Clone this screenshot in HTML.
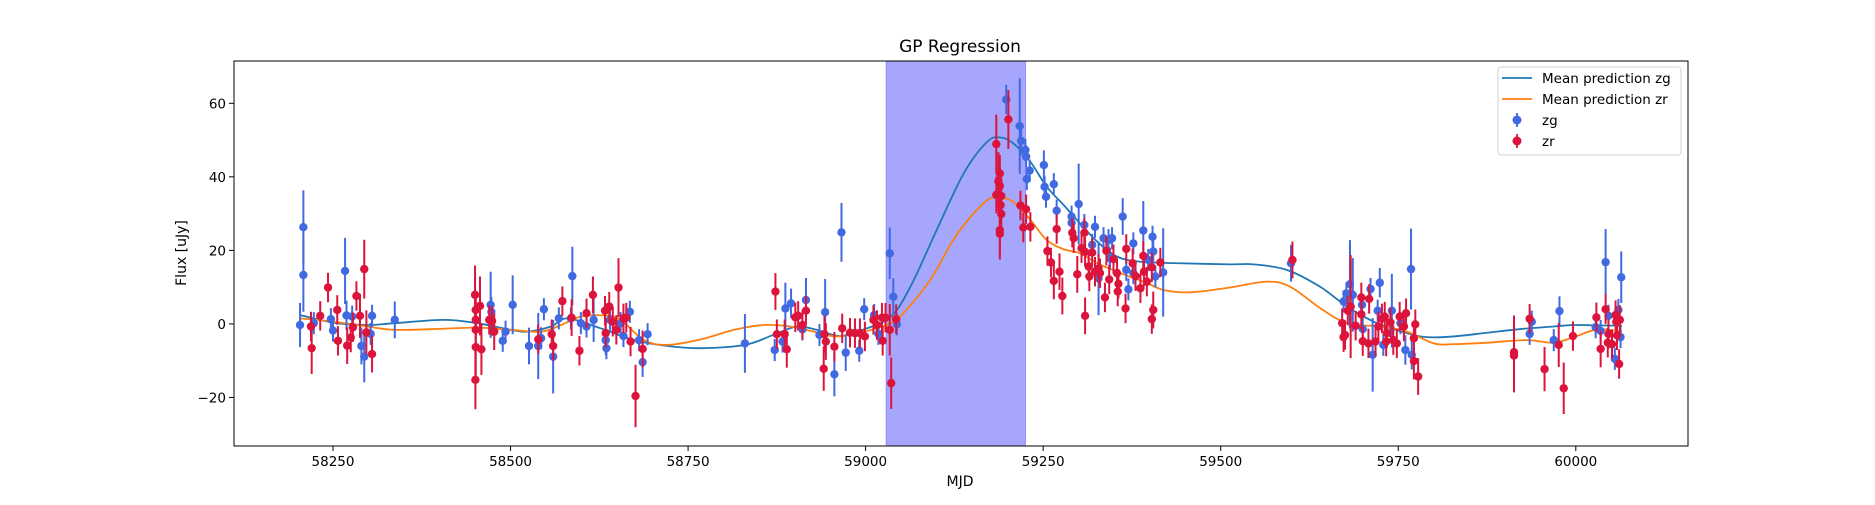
<!DOCTYPE html>
<html><head><meta charset="utf-8"><style>
html,body{margin:0;padding:0;background:#fff;}
svg text{font-family:"DejaVu Sans","Liberation Sans",sans-serif;fill:#000;}
</style></head><body>
<svg id="chart" width="1875" height="500" viewBox="0 0 1875 500" xmlns="http://www.w3.org/2000/svg">
<rect width="1875" height="500" fill="#fff"/>
<text x="960" y="52" font-size="17" text-anchor="middle">GP Regression</text>
<text x="960" y="486" font-size="14" text-anchor="middle">MJD</text>
<text transform="translate(186,253) rotate(-90)" font-size="14" text-anchor="middle">Flux [uJy]</text>
<g id="plot"></g>
</svg>
<script>
const xTicks=[58250,58500,58750,59000,59250,59500,59750,60000];
const yTicks=[-20,0,20,40,60];
const band=[59029,59225];
const gX=[58203.6,58208.3,58208.3,58223,58247,58250,58267,58269,58277,58290,58294,58303,58305,58337,58472,58473,58489,58493,58503,58526,58539,58543,58547,58560,58568,58585,58587,58599,58607,58617,58634,58635,58640,58655,58659,58668,58681,58686,58693,
58830,58872,58883,58887,58895,58911,58916,58935,58943,58956,58966,58972,58991,58998,59012,59018,59034,59039,59044,59198,59217,59219,59225,59226,59227,59231,59251,59252,59254,59265,59269,59290,59290,59300,59308,59319,59323,59328,59335,59342,59347,59344,59362,59367,59370,59377,59377,59391,59398,59404,59405,59408,59419,
59599,59673,59677,59682,59686,59699,59700,59711,59714,59721,59724,59729,59741,59753,59760,59768,59769,59935,59938,59969,59977,60028,60035,60042,60046,60055,60060,60064,60063];
const gY=[-0.3,26.3,13.3,0.2,1.3,-1.8,14.4,2.3,2,-6,-8.9,-2.7,2.2,1.1,5.2,3.3,-4.6,-2.1,5.2,-6,-6,-3.9,4,-8.9,1.5,1.5,13,0.2,-0.7,1.1,-4.4,-6.6,1.1,0.2,-3.3,3.3,-4.4,-10.4,-2.8,
-5.3,-7.1,-4.8,4.2,5.6,-1.5,6.5,-3,3.2,-13.7,24.9,-7.8,-7.3,4,2.4,-2.7,19.2,7.4,-0.1,61,53.8,49.8,47.3,45.5,39.4,41.7,43.2,37.3,34.6,38,30.8,29.2,27.5,32.6,26.9,21.5,26.4,12.4,23.3,22.8,23.3,17.8,29.2,14.7,9.4,21.9,13.8,25.4,17.4,23.7,19.7,12.9,14,
16.5,6.1,8.3,10.8,7.9,5.2,-1.4,9.5,-8.4,3.6,11.2,-5.7,3.6,0.2,-7.1,14.9,-8.4,-2.7,0.6,-4.4,3.5,-0.9,-1.9,16.8,2.2,-9.5,3.8,12.7,-3.6];
const gE=[6,10,10,3,3,3,9,4,3,5,7,3,3,5,9,4,3,3,8,5,9,3,3,10,3,3,8,3,3,6,4,3,3,3,3,3,3,4,3,
8,3,3,7,4,3,6,3,9,6,8,5,3,3,3,3,7,5,3,4,13,4,3,3,3,3,4,3,3,3,3,3,3,11,3,3,3,10,3,3,3,3,5,3,3,3,3,8,3,3,3,3,12,
5,3,3,12,10,3,3,3,10,3,4,3,10,3,4,11,4,3,3,3,4,3,3,9,3,3,3,7,3];
const rX=[58219,58220,58232,58243,58256,58257,58270,58275,58278,58283,58288,58294,58297,58305,58450,58451,58451,58451,58451,58450.5,58457,58459,58470,58474,58477,58539,58558,58560,58573,58586,58597,58607,58616,58633,58634,58639,58644,58649,58652,58659,58663,58669,58676,58686,
58873,58875,58886,58889,58901,58905,58911,58916,58941,58942,58944,58956,58967,58978,58985,58992,58999,59011,59016,59023,59024,59028,59034,59036,59043,59184,59187,59189,59189,59191,59184,59190,59191,59189,59189,59201,59218,59226,59222,59232,59256,59261,59265,59273,59269,59277,59291,59293,59298,59304,59308,59309,59309,59314,59319,59315,59323,59328,59330,59337,59339,59343,59349,59355,59356,59354,59366,59367,59376,59380,59387,59391,59392,59396,59403,59405,59403,59415,
59601,59671,59673,59675,59679,59683,59690,59698,59698,59700,59709,59708,59718,59722,59727,59731,59733,59734,59739,59743,59748,59752,59758,59761,59772,59774,59772,59778,59913,59913,59935,59956,59976,59983,59996,60029,60035,60042,60045,60046,60051,60056,60057,60058,60061,60062];
const rY=[-0.7,-6.6,2.2,9.9,3.8,-4.6,-5.9,-3.7,-0.9,7.6,2.2,14.9,-2.3,-8.2,7.9,3.8,1.1,-1.6,-6.3,-15.2,4.9,-6.9,1.1,0.8,-2.1,-4.2,-2.8,-6,6.2,1.7,-7.3,2.9,7.9,3.6,-2.5,4.7,0.6,-1.6,9.9,1.5,1.7,-4.8,-19.6,-6.8,
8.8,-2.8,-2.8,-6.9,1.8,2.2,-0.3,3.6,-12.2,-2.8,-4.8,-6.2,-1.2,-2.4,-2.5,-2.5,-3.4,1.1,-0.3,1.7,-4.6,1.7,-1.6,-16.1,1.3,48.9,38.7,40.9,37.5,34.8,35.1,32.3,29.9,25.5,24.5,55.6,32.2,31.2,26.2,26.4,19.8,16.7,11.7,14.2,25.8,7.6,24.8,23.3,13.5,20.6,24.8,19.6,2.2,15.6,19.4,12.9,14.2,15.1,13.8,7.2,19.9,12.1,17.6,8.8,10.9,13.8,4.2,20.4,16.5,13,9.7,18.5,14.2,11.5,15.4,3.8,1.3,16.7,
17.4,0.2,-3.6,-3,3.6,4.7,-0.5,7.2,2.6,-4.7,6.8,-5.3,-4.8,-0.7,1.5,2,-4.8,-2.5,0.4,-4.4,-5.3,2,-0.7,2.9,-3.9,-0.1,-10.1,-14.3,-7.7,-8.6,1.4,-12.3,-5.7,-17.5,-3.3,1.8,-6.8,4,-5.1,-2.7,-5.5,2.4,0.6,-3.1,-10.9,1.1];
const rE=[4,7,4,4,4,4,5,4,4,4,6,8,6,5,8,5,5,5,8,8,8,7,4,4,5,4,4,4,4,5,4,4,5,4,4,4,4,4,8,4,4,4,8.5,5,
5,4,4,5,4,4,4,4,6,5,5,4,4,4,4,4,4,4,4,4,4,4,7,7,4,8,8,5,5,5,5,5,5,7,7,8,4,4,4,4,4,4,5,5,4,5,4,4,5,4,4,4,5,4,4,4,4,4,4,4,4,4,4,4,4,4,4,4,4,4,4,4,4,4,4,5,4,4,
5,4,4,4,4,14,4,4,4,4,4,4,4,4,4,4,4,4,4,4,4,4,4,4,4,4,5,5,10,10,4,6,6,7,4,4,5,4,4,4,4,4,4,4,4,4];
const mgX=[58204,58252,58298,58337,58406,58453,58500,58524,58557,58580,58627,58674,58721,58768,58830,58870,58903,58931,58964,58997,59025,59044,59068,59100,59138,59171,59190,59208,59232,59255,59279,59302,59326,59354,59387,59443,59514,59546,59593,59640,59678,59720,59762,59790,59828,59875,59922,59969,59997,60030,60065];
const mgY=[2.4,0.3,-0.3,0.2,1.1,0.2,-1.6,-2.1,-0.7,1.5,-1.2,-4.4,-6,-6.6,-5.7,-3,-0.7,-1.6,-3.3,-1.5,0.6,3.8,12,25.5,40.9,49.5,50.7,49.1,44.1,37.3,32.3,27.3,22.4,18.3,16.9,16.5,16.2,16.2,14.7,10.1,4.7,0.2,-2.5,-3.6,-3.4,-2.4,-1.4,-0.7,-0.3,-0.4,-0.5];
const mrX=[58204,58251,58298,58336,58392,58453,58500,58543,58571,58599,58632,58655,58688,58721,58768,58815,58856,58894,58925,58959,58997,59030,59053,59091,59128,59166,59185,59208,59232,59255,59279,59302,59326,59359,59396,59420,59457,59513,59565,59598,59640,59678,59725,59762,59800,59828,59875,59931,59969,59997,60030,60065];
const mrY=[1.5,0.6,-0.7,-1.6,-1.4,-1,-1.6,-2.1,-0.3,2,2.3,1.1,-4.4,-5.7,-4.2,-1.6,-0.3,-0.7,-2,-3.4,-2.1,-0.3,2.9,12,24.2,32.8,34.4,33.2,28.3,22.8,20.3,19.2,16.5,13.8,11.1,9.2,8.6,9.9,11.5,10.1,4.3,0.2,-0.7,-2.1,-5.3,-5.5,-5.1,-4.4,-5.1,-3.6,-1.5,-2.1];

const L=234,R=1688,T=61,B=446,X0=58110.6,X1=60158,Y0=-33.2,Y1=71.5;
const sx=v=>L+(v-X0)/(X1-X0)*(R-L);
const sy=v=>B-(v-Y0)/(Y1-Y0)*(B-T);
const NS='http://www.w3.org/2000/svg';
const plot=document.getElementById('plot');
function mk(tag,attrs,parent){const e=document.createElementNS(NS,tag);for(const k in attrs)e.setAttribute(k,attrs[k]);(parent||plot).appendChild(e);return e;}

const bandEl=mk('rect',{x:sx(band[0]),y:T,width:sx(band[1])-sx(band[0]),height:B-T,fill:'rgb(166,166,252)',stroke:'rgb(140,140,250)','stroke-width':1});



function smooth(xs,ys){let pts=xs.map((x,i)=>[sx(x),sy(ys[i])]);let d='M'+pts[0][0]+','+pts[0][1];
for(let i=0;i<pts.length-1;i++){const p0=pts[Math.max(0,i-1)],p1=pts[i],p2=pts[i+1],p3=pts[Math.min(pts.length-1,i+2)];
d+=' C'+(p1[0]+(p2[0]-p0[0])/6)+','+(p1[1]+(p2[1]-p0[1])/6)+' '+(p2[0]-(p3[0]-p1[0])/6)+','+(p2[1]-(p3[1]-p1[1])/6)+' '+p2[0]+','+p2[1];}return d;}
const lg=mk('path',{d:smooth(mgX,mgY),fill:'none',stroke:'#1f77b4','stroke-width':1.8});


const lr=mk('path',{d:smooth(mrX,mrY),fill:'none',stroke:'#ff7f0e','stroke-width':1.8});



function series(xs,ys,es,col,name){const g=mk('g',{});


xs.forEach((x,i)=>{const l=mk('line',{x1:sx(x),x2:sx(x),y1:sy(ys[i]-es[i]),y2:sy(ys[i]+es[i]),stroke:col,'stroke-width':2},g);

});
xs.forEach((x,i)=>{const c=mk('circle',{cx:sx(x),cy:sy(ys[i]),r:4.2,fill:col},g);

});}
series(gX,gY,gE,'#4169e1','zg');
series(rX,rY,rE,'#dc143c','zr');

const frame=mk('rect',{x:L,y:T,width:R-L,height:B-T,fill:'none',stroke:'#000','stroke-width':1});


xTicks.forEach(t=>{const tk=mk('line',{x1:sx(t),x2:sx(t),y1:B,y2:B+5,stroke:'#000'});


const tx=mk('text',{x:sx(t),y:B+20,'font-size':13.5,'text-anchor':'middle'});tx.textContent=t;

});
yTicks.forEach(t=>{const tk=mk('line',{x1:L-5,x2:L,y1:sy(t),y2:sy(t),stroke:'#000'});


const tx=mk('text',{x:L-8,y:sy(t)+5,'font-size':13.5,'text-anchor':'end'});tx.textContent=t<0?'\u2212'+(-t):t;

});

const leg=mk('g',{});


mk('rect',{x:1498,y:67,width:183,height:88,rx:3,fill:'#fff','fill-opacity':0.8,stroke:'#d0d0d0'},leg);
const entries=[['Mean prediction zg','line','#1f77b4'],['Mean prediction zr','line','#ff7f0e'],['zg','dot','#4169e1'],['zr','dot','#dc143c']];
entries.forEach((e,i)=>{const y=78+i*21;const g=mk('g',{},leg);


if(e[1]=='line')mk('line',{x1:1502,x2:1532,y1:y,y2:y,stroke:e[2],'stroke-width':1.8},g);
else{mk('line',{x1:1517,x2:1517,y1:y-7,y2:y+7,stroke:e[2],'stroke-width':1.8},g);mk('circle',{cx:1517,cy:y,r:4.5,fill:e[2]},g);}
const t=mk('text',{x:1542,y:y+5,'font-size':13.5},g);t.textContent=e[0];});
</script>
</body></html>
